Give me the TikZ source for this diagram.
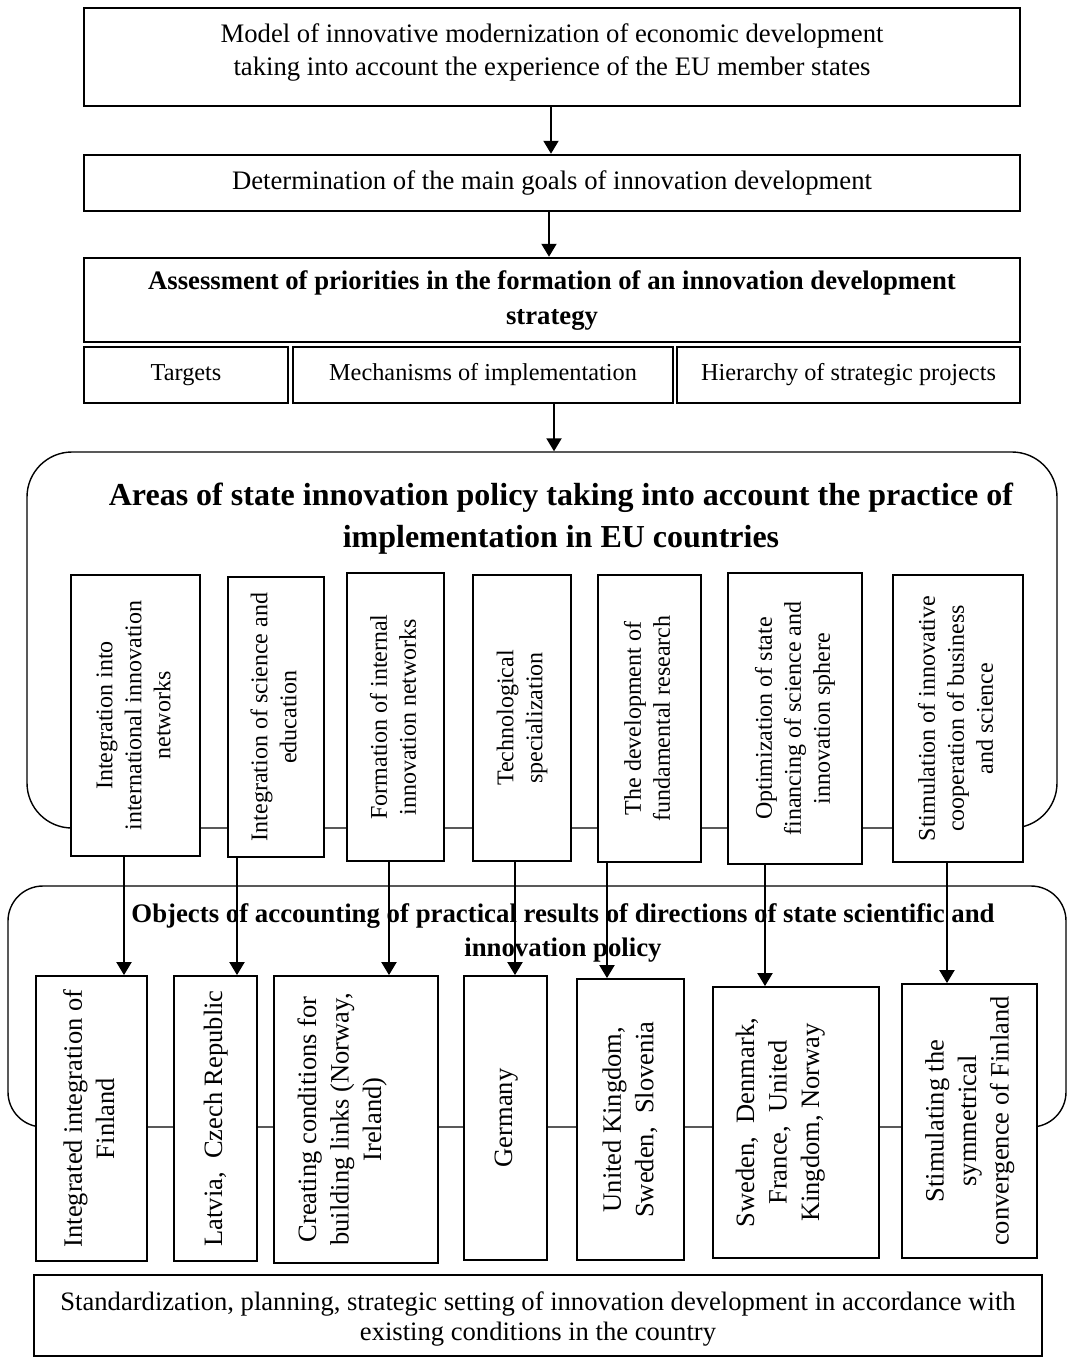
\documentclass[tikz,border=0pt]{standalone}
\usepackage{fontspec}
\setmainfont{Liberation Serif}
\usetikzlibrary{arrows.meta}
\newcommand{\vtext}[2][0pt]{\rotatebox{90}{\raisebox{#1}[\height][\depth]{\begin{tabular}{@{}c@{}}#2\end{tabular}}}}
\newcommand{\htext}[2][0pt]{\raisebox{#1}[\height][\depth]{\begin{tabular}{@{}c@{}}#2\end{tabular}}}
\tikzset{
  topbox/.style={draw, line width=2.5pt, inner sep=0pt, fill=white, font=\fontsize{26.7}{33}\selectfont},
  subbox/.style={draw, line width=2.2pt, inner sep=0pt, fill=white, font=\fontsize{24.3}{30}\selectfont},
  vbox/.style={draw, line width=1.8pt, inner sep=0pt, fill=white, font=\fontsize{24}{29}\selectfont},
  obox/.style={draw, line width=1.8pt, inner sep=0pt, fill=white, font=\fontsize{26.5}{32.5}\selectfont},
  framebox/.style={draw, line width=1.4pt, inner sep=0pt},
  headtext/.style={inner sep=0pt, align=center},
  arr/.style={line width=2pt, -{Triangle[length=13pt,width=15pt]}},
}
\begin{document}
\begin{tikzpicture}[x=1pt,y=-1pt]
\useasboundingbox (0,0) rectangle (1067,1358);

% top chain
\node[topbox, minimum width=936, minimum height=98] (t1) at (552,57)
  {\htext[5pt]{Model of innovative modernization of economic development\\taking into account the experience of the EU member states}};
\node[topbox, minimum width=936, minimum height=56] (t2) at (552,183)
  {Determination of the main goals of innovation development};
\node[topbox, minimum width=936, minimum height=84, font=\fontsize{26.7}{35}\selectfont\bfseries] (t3) at (552,300)
  {\htext{Assessment of priorities in the formation of an innovation development\\strategy}};
\node[subbox, minimum width=204, minimum height=56] (s1) at (186,375) {Targets};
\node[subbox, minimum width=380, minimum height=56] (s2) at (483,375) {Mechanisms of implementation};
\node[subbox, minimum width=343, minimum height=56] (s3) at (848.5,375) {Hierarchy of strategic projects};

% areas frame
\node[framebox, rounded corners=45pt, minimum width=1030, minimum height=376] (area) at (542,640) {};
\node[headtext, font=\fontsize{32}{42}\selectfont\bfseries] (areah) at (561,519)
  {Areas of state innovation policy taking into account the practice of\\implementation in EU countries};

\node[vbox, minimum width=129, minimum height=281] (a1) at (135.5,715.5)
  {\vtext{Integration into\\international innovation\\networks}};
\node[vbox, minimum width=96, minimum height=280] (a2) at (276,717)
  {\vtext{Integration of science and\\education}};
\node[vbox, minimum width=97, minimum height=288] (a3) at (395.5,717)
  {\vtext{Formation of internal\\innovation networks}};
\node[vbox, minimum width=98, minimum height=286] (a4) at (522,718)
  {\vtext{Technological\\specialization}};
\node[vbox, minimum width=103, minimum height=287] (a5) at (649.5,718.5)
  {\vtext{The development of\\fundamental research}};
\node[vbox, minimum width=134, minimum height=291] (a6) at (795,718.5)
  {\vtext{Optimization of state\\financing of science and\\innovation sphere}};
\node[vbox, minimum width=130, minimum height=287] (a7) at (958,718.5)
  {\vtext{Stimulation of innovative\\cooperation of business\\and science}};

% objects frame
\node[framebox, rounded corners=35pt, minimum width=1058, minimum height=241] (obj) at (537,1006.5) {};
\node[headtext, font=\fontsize{26.8}{34}\selectfont\bfseries] (objh) at (563,933)
  {Objects of accounting of practical results of directions of state scientific and\\innovation policy};

\node[obox, minimum width=111, minimum height=285] (b1) at (91.5,1118.5)
  {\vtext{Integrated integration of\\Finland}};
\node[obox, minimum width=83, minimum height=285] (b2) at (215.5,1118.5)
  {\vtext{Latvia,\ \ Czech Republic}};
\node[obox, minimum width=164, minimum height=287] (b3) at (356,1119.5)
  {\vtext[14pt]{Creating conditions for\\building links (Norway,\\Ireland)}};
\node[obox, minimum width=83, minimum height=284] (b4) at (505.5,1118)
  {\vtext{Germany}};
\node[obox, minimum width=107, minimum height=281] (b5) at (630.5,1119.5)
  {\vtext{United Kingdom,\\Sweden,\ \ Slovenia}};
\node[obox, minimum width=166, minimum height=271] (b6) at (796,1122.5)
  {\vtext[16pt]{Sweden,\ \ Denmark,\\France,\ \ United\\Kingdom,\ Norway}};
\node[obox, minimum width=135, minimum height=274] (b7) at (969.5,1121)
  {\vtext{Stimulating the\\symmetrical\\convergence of Finland}};

\node[topbox, line width=2pt, font=\fontsize{26.6}{30}\selectfont, minimum width=1008, minimum height=81] (fin) at (538,1315.5)
  {\htext[-4pt]{Standardization, planning, strategic setting of innovation development in accordance with\\existing conditions in the country}};

% connectors
\coordinate (q1) at (551,0);
\coordinate (q2) at (549,0);
\coordinate (q3) at (554,0);
\draw[arr] (t1.south -| q1) -- (t2.north -| q1);
\draw[arr] (t2.south -| q2) -- (t3.north -| q2);
\draw[arr] (s2.south -| q3) -- (area.north -| q3);

\coordinate (p1) at (124,0);
\coordinate (p2) at (237,0);
\coordinate (p3) at (389,0);
\coordinate (p4) at (515,0);
\coordinate (p5) at (607,0);
\coordinate (p6) at (765,0);
\coordinate (p7) at (947,0);
\draw[arr] (a1.south -| p1) -- (b1.north -| p1);
\draw[arr] (a2.south -| p2) -- (b2.north -| p2);
\draw[arr] (a3.south -| p3) -- (b3.north -| p3);
\draw[arr] (a4.south -| p4) -- (b4.north -| p4);
\draw[arr] (a5.south -| p5) -- (b5.north -| p5);
\draw[arr] (a6.south -| p6) -- (b6.north -| p6);
\draw[arr] (a7.south -| p7) -- (b7.north -| p7);
\end{tikzpicture}
\end{document}
